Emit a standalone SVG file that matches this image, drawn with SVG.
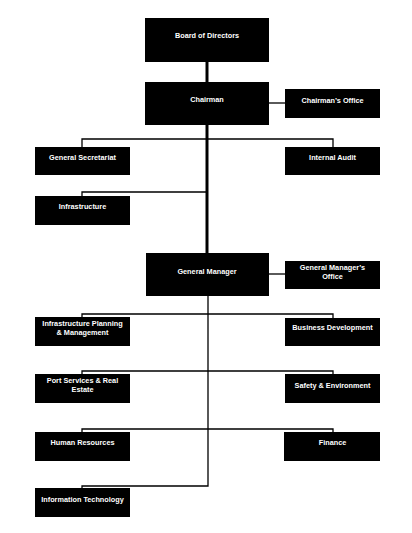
<svg xmlns="http://www.w3.org/2000/svg" width="412" height="533" viewBox="0 0 412 533">
<style>
.box{fill:#000}
.t{fill:#fff;font-family:"Liberation Sans",Arial,sans-serif;font-size:7.3px;font-weight:bold;text-anchor:middle}
.thin{stroke:#000;stroke-width:1.3;fill:none}
.thick{stroke:#000;stroke-width:3;fill:none}
</style>
<rect width="412" height="533" fill="#fff"/>
<g id="connectors">
<path class="thick" d="M207 62V253"/>
<path class="thin" d="M208 296V486H82V488"/>
<path class="thin" d="M269 103H285"/>
<path class="thin" d="M269 274H285"/>
<path class="thin" d="M82 147V139H333V147"/>
<path class="thin" d="M82 196V192H207"/>
<path class="thin" d="M82 317V314H333V318"/>
<path class="thin" d="M82 374V371H333V374"/>
<path class="thin" d="M82 432V429H333V432"/>
</g>
<g id="board"><rect class="box" x="145" y="18" width="124" height="44"/><text class="t" x="207" y="37.5">Board of Directors</text></g>
<g id="chairman"><rect class="box" x="145" y="82" width="124" height="43"/><text class="t" x="207" y="101.5">Chairman</text></g>
<g id="chairmans-office"><rect class="box" x="285" y="89" width="95" height="29"/><text class="t" x="332.5" y="102.5">Chairman’s Office</text></g>
<g id="general-secretariat"><rect class="box" x="35" y="147" width="95" height="28"/><text class="t" x="82.5" y="159.5">General Secretariat</text></g>
<g id="internal-audit"><rect class="box" x="285" y="147" width="95" height="28"/><text class="t" x="332.5" y="159.5">Internal Audit</text></g>
<g id="infrastructure"><rect class="box" x="35" y="196" width="95" height="29"/><text class="t" x="82.5" y="208.5">Infrastructure</text></g>
<g id="general-manager"><rect class="box" x="146" y="253" width="123" height="43"/><text class="t" x="207" y="273.5">General Manager</text></g>
<g id="gm-office"><rect class="box" x="285" y="261" width="95" height="28"/><text class="t" x="332.5" y="269.5">General Manager’s</text><text class="t" x="332.5" y="278.5">Office</text></g>
<g id="infra-planning"><rect class="box" x="35" y="317" width="95" height="29"/><text class="t" x="82.5" y="325.5">Infrastructure Planning</text><text class="t" x="82.5" y="334.5">&amp; Management</text></g>
<g id="business-development"><rect class="box" x="285" y="318" width="95" height="28"/><text class="t" x="332.5" y="330">Business Development</text></g>
<g id="port-services"><rect class="box" x="35" y="374" width="95" height="29"/><text class="t" x="82.5" y="382.5">Port Services &amp; Real</text><text class="t" x="82.5" y="391.5">Estate</text></g>
<g id="safety-environment"><rect class="box" x="285" y="374" width="95" height="29"/><text class="t" x="332.5" y="387.5">Safety &amp; Environment</text></g>
<g id="human-resources"><rect class="box" x="35" y="432" width="95" height="29"/><text class="t" x="82.5" y="444.5">Human Resources</text></g>
<g id="finance"><rect class="box" x="284" y="432" width="96" height="29"/><text class="t" x="332.5" y="444.5">Finance</text></g>
<g id="information-technology"><rect class="box" x="35" y="488" width="95" height="29"/><text class="t" x="82.5" y="501.5">Information Technology</text></g>
</svg>
